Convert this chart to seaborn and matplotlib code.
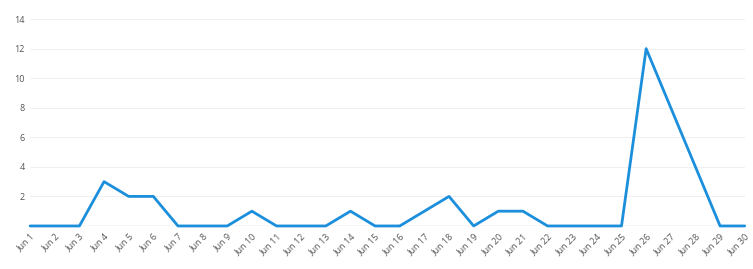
import numpy as np
import pandas as pd
import matplotlib
matplotlib.use("Agg")
import matplotlib.pyplot as plt
import seaborn as sns

days = [f"Jun {i}" for i in range(1, 31)]
values = [0, 0, 0, 3, 2, 2, 0, 0, 0, 1, 0, 0, 0, 1, 0, 0, 1, 2, 0, 1, 1, 0, 0, 0, 0, 12, 8, 4, 0, 0]
y_ticks = [2, 4, 6, 8, 10, 12, 14]

df = pd.DataFrame({"day": days, "pos": range(len(days)), "value": values})

sns.set_theme(style="white")
plt.rcParams['font.family'] = ['Open Sans', 'DejaVu Sans']

fig = plt.figure(figsize=(7.53, 2.69), dpi=100)
ax = fig.add_axes([0.040, 0.160, 0.949, 0.769])

sns.lineplot(data=df, x="pos", y="value", ax=ax, color="#1b8fdc", linewidth=2.0, clip_on=False)

ax.set_xlim(0, len(days) - 1)
ax.set_ylim(0, 14)
ax.set_yticks(y_ticks)
ax.set_yticklabels([str(t) for t in y_ticks], fontsize=6.5, color="#555555")
ax.set_xticks(range(len(days)))
ax.set_xticklabels(days, rotation=45, ha="right", rotation_mode="anchor", fontsize=6.5, color="#555555")
ax.tick_params(axis="both", length=0, pad=4)
ax.grid(axis="y", color="#f0f0f0", linewidth=0.8)
ax.axhline(0, color="#d6d6d6", linewidth=1.0, zorder=1)
for s in ax.spines.values():
    s.set_visible(False)
ax.set_xlabel("")
ax.set_ylabel("")

fig.savefig("out.png", dpi=100)
